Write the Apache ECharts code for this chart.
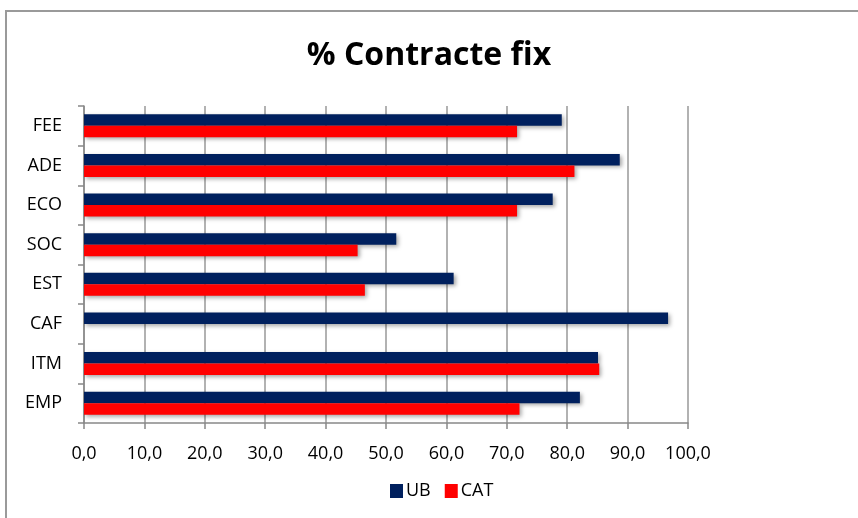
<!DOCTYPE html>
<html><head><meta charset="utf-8">
<script src="https://cdn.jsdelivr.net/npm/echarts@6/dist/echarts.min.js"></script>
<style>html,body{margin:0;padding:0;background:#fff}#c{width:858px;height:518px}</style>
</head><body><div id="c"></div>
<script>
const categories = ['EMP','ITM','CAF','EST','SOC','ECO','ADE','FEE'];
const ubValues = [82.1, 85.1, 96.7, 61.2, 51.7, 77.6, 88.7, 79.1];
const catValues = [72.1, 85.3, null, 46.5, 45.3, 71.7, 81.2, 71.7];
const xTicks = [0,10,20,30,40,50,60,70,80,90,100];

const chart = echarts.init(document.getElementById('c'), null, {renderer:'canvas'});
const font = 'Open Sans, Noto Sans, sans-serif';
const shadow = {shadowBlur:4, shadowOffsetX:2, shadowOffsetY:2, shadowColor:'rgba(0,0,0,0.35)'};
chart.setOption({
  animation:false,
  backgroundColor:'#fff',
  graphic:[{type:'rect', shape:{x:6, y:11, width:900, height:600}, style:{fill:'none', stroke:'#9a9a9a', lineWidth:2}, z:-1}],
  title:{text:'% Contracte fix', left:'center', top:35, textStyle:{fontFamily:font, fontWeight:'bold', fontSize:32, color:'#000'}},
  legend:{data:['UB','CAT'], left:385, top:477, itemWidth:13, itemHeight:14, itemGap:14, icon:'rect',
    textStyle:{fontFamily:font, fontSize:18, color:'#000', padding:[0,0,0,-2]}},
  grid:{left:84, right:170, top:106, bottom:95, containLabel:false},
  xAxis:{type:'value', min:0, max:100, interval:10,
    axisLine:{show:true, lineStyle:{color:'#888', width:1.5}},
    axisTick:{show:true, length:6, lineStyle:{color:'#888', width:1.5}},
    splitLine:{show:true, lineStyle:{color:'#999', width:1.5}},
    axisLabel:{margin:22, fontFamily:font, fontSize:18, color:'#000', formatter:v=>v.toFixed(1).replace('.',',')}},
  yAxis:{type:'category', data:categories,
    axisLine:{show:true, lineStyle:{color:'#888', width:1.5}},
    axisTick:{show:true, length:6, lineStyle:{color:'#888', width:1.5}},
    axisLabel:{margin:22, fontFamily:font, fontSize:18, color:'#000'}},
  series:[
    {name:'UB', type:'bar', data:ubValues, barGap:'0%', barCategoryGap:'42%', itemStyle:Object.assign({color:'#00205e'}, shadow)},
    {name:'CAT', type:'bar', data:catValues, barGap:'0%', barCategoryGap:'42%', itemStyle:Object.assign({color:'#ff0000'}, shadow)}
  ]
});
</script></body></html>
